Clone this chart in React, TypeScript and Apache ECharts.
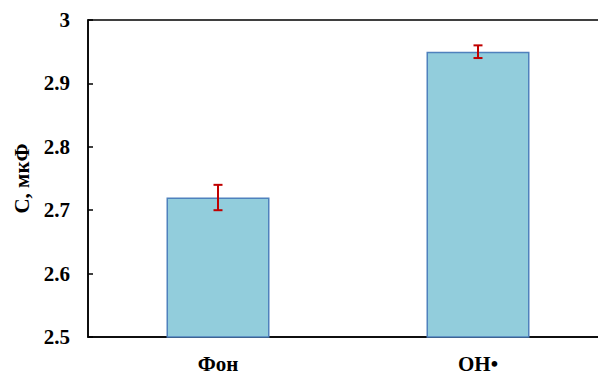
import React, { useEffect, useRef } from "react";
import * as echarts from "echarts";

const categories = ["Фон", "ОН•"];
const values = [2.72, 2.95];
const errors = [0.02, 0.01];
const yAxisName = "С, мкФ";

export default function App() {
  const ref = useRef<HTMLDivElement>(null);
  useEffect(() => {
    if (!ref.current) return;
    const chart = echarts.init(ref.current, undefined, { renderer: "svg" });
    const font = "Liberation Serif";
    const lbl = { fontFamily: font, fontWeight: "bold" as const, fontSize: 21, color: "#000" };
    const errData = values.map((v, i) => [i, v - errors[i], v + errors[i]]);
    chart.setOption({
      animation: false,
      textStyle: { fontFamily: font, fontWeight: "bold", color: "#000" },
      grid: {
        left: 88,
        top: 20,
        width: 520,
        height: 317,
        outerBoundsMode: "none",
        containLabel: false,
        show: true,
        borderColor: "#000",
        borderWidth: 1.5,
        backgroundColor: "transparent",
      },
      xAxis: {
        type: "category",
        data: categories,
        axisLine: { show: true, lineStyle: { color: "#000", width: 1.5 } },
        axisTick: { show: false },
        axisLabel: {
          margin: 16,
          ...lbl,
          formatter: (v: string) => "{a|" + v + "}",
          rich: { a: lbl },
        },
      },
      yAxis: {
        type: "value",
        min: 2.5,
        max: 3,
        interval: 0.1,
        name: "{a|" + yAxisName + "}",
        nameLocation: "middle",
        nameGap: 53,
        nameRotate: 90,
        nameTextStyle: { ...lbl, rich: { a: lbl } },
        axisLine: { show: true, lineStyle: { color: "#000", width: 1.5 } },
        axisTick: { show: true, inside: true, length: 5, lineStyle: { color: "#000", width: 1.5 } },
        splitLine: { show: false },
        axisLabel: {
          margin: 18,
          ...lbl,
          formatter: (v: number) => "{a|" + String(Math.round(v * 10) / 10) + "}",
          rich: { a: lbl },
        },
      },
      series: [
        {
          type: "bar",
          data: values,
          barWidth: 103,
          itemStyle: { color: "#92CDDC", borderColor: "#4F81BD", borderWidth: 1.5 },
        },
        {
          type: "custom",
          data: errData,
          z: 10,
          renderItem: (params: any, api: any) => {
            const x = api.value(0);
            const lo = api.coord([x, api.value(1)]);
            const hi = api.coord([x, api.value(2)]);
            const hw = 4.5;
            const style = { stroke: "#C00000", lineWidth: 2 };
            return {
              type: "group",
              children: [
                { type: "line", shape: { x1: lo[0], y1: lo[1], x2: hi[0], y2: hi[1] }, style },
                { type: "line", shape: { x1: lo[0] - hw, y1: lo[1], x2: lo[0] + hw, y2: lo[1] }, style },
                { type: "line", shape: { x1: hi[0] - hw, y1: hi[1], x2: hi[0] + hw, y2: hi[1] }, style },
              ],
            };
          },
        },
      ],
    });
    return () => chart.dispose();
  }, []);
  return (
    <div
      ref={ref}
      style={{ position: "fixed", left: 0, top: 0, width: 598, height: 374, background: "#fff" }}
    />
  );
}
